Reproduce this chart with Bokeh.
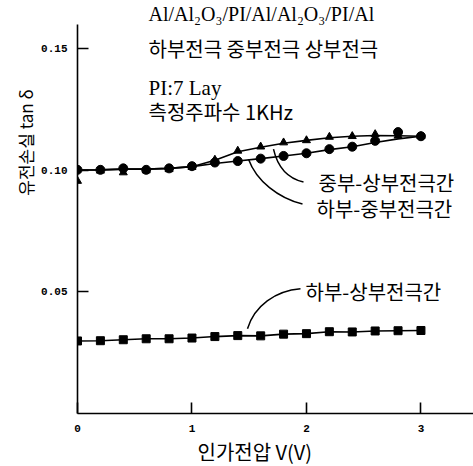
import math
from bokeh.plotting import figure
from bokeh.models import Label, Title, FixedTicker, PrintfTickFormatter, Range1d
from bokeh.embed import file_html
from bokeh.resources import INLINE

# ---- data ----
volts = [0.0, 0.2, 0.4, 0.6, 0.8, 1.0, 1.2, 1.4, 1.6, 1.8, 2.0, 2.2, 2.4, 2.6, 2.8, 3.0]

# 하부-상부전극간 (squares)
lower_upper = [0.0298, 0.0299, 0.0303, 0.0307, 0.0307, 0.0310, 0.0316, 0.0320,
               0.0319, 0.0326, 0.0328, 0.0336, 0.0335, 0.0339, 0.0340, 0.0341]
# 하부-중부전극간 (circles) markers and drawn curve
lower_middle = [0.1001, 0.1001, 0.1007, 0.1001, 0.1007, 0.1016, 0.1031, 0.1037,
                0.1047, 0.1058, 0.1069, 0.1086, 0.1096, 0.1120, 0.1156, 0.1139]
lower_middle_curve = [0.1000, 0.1001, 0.1004, 0.1004, 0.1007, 0.1014, 0.1027, 0.1037,
                      0.1047, 0.1058, 0.1069, 0.1084, 0.1096, 0.1113, 0.1128, 0.1139]
# 중부-상부전극간 (triangles) markers and drawn curve
middle_upper = [0.0955, 0.0997, 0.0990, 0.0998, 0.1003, 0.1012, 0.1042, 0.1079,
                0.1096, 0.1113, 0.1122, 0.1136, 0.1139, 0.1147, 0.1141, 0.1139]
middle_upper_curve = [0.1000, 0.1001, 0.1004, 0.1004, 0.1007, 0.1014, 0.1040, 0.1075,
                      0.1094, 0.1110, 0.1122, 0.1133, 0.1139, 0.1142, 0.1141, 0.1139]

x_ticks = [0, 1, 2, 3]
y_ticks = [0.05, 0.10, 0.15]

# ---- figure ----
W, H = 473, 466
FL, FT, FB = 77, 23, 53
X0, X1 = 0.0, 3.459
Y0, Y1 = 0.0, 0.1598

p = figure(width=W, height=H, output_backend="svg", toolbar_location=None,
           x_range=Range1d(X0, X1), y_range=Range1d(Y0, Y1),
           min_border_left=FL, min_border_right=0, min_border_top=FT,
           min_border_bottom=FB)
p.outline_line_color = None
p.grid.visible = False
p.background_fill_color = "white"

fw = W - FL
fh = H - FT - FB
def px(xp, yp):
    """canvas pixel -> data coordinates (for annotation placement)"""
    xd = X0 + (xp - FL) / fw * (X1 - X0)
    yd = Y0 + (H - FB - yp) / fh * (Y1 - Y0)
    return xd, yd

for ax in (p.xaxis[0], p.yaxis[0]):
    ax.axis_line_width = 1.6
    ax.axis_line_color = "black"
    ax.major_tick_line_width = 1.6
    ax.major_tick_in = 11
    ax.major_tick_out = 0
    ax.minor_tick_line_color = None
    ax.major_label_text_font = "Liberation Mono"
    ax.major_label_text_font_style = "bold"
    ax.major_label_text_font_size = "11px"
    ax.major_label_text_color = "black"

p.xaxis.ticker = FixedTicker(ticks=x_ticks)
p.xaxis.formatter = PrintfTickFormatter(format="%d")
p.xaxis.major_label_standoff = 11
p.yaxis.ticker = FixedTicker(ticks=y_ticks)
p.yaxis.formatter = PrintfTickFormatter(format="%.2f")
p.yaxis.major_label_standoff = 10

# curves
p.line(volts, lower_upper, line_color="black", line_width=1.6)
p.line(volts, lower_middle_curve, line_color="black", line_width=1.6)
p.line(volts, middle_upper_curve, line_color="black", line_width=1.6)

# markers
p.scatter(volts, middle_upper, marker="triangle", size=8, color="black")
p.scatter(volts, lower_middle, marker="circle", size=9, color="black")
p.scatter(volts, lower_upper, marker="square", size=8, color="black")

# leader curves
leaders = [
    [(273, 148), (278, 170), (290, 178), (303, 181)],
    [(248, 158), (256, 180), (278, 197), (302, 203)],
    [(247, 328), (254, 305), (275, 290), (300, 288)],
]
for pts in leaders:
    (x0, y0), (cx0, cy0), (cx1, cy1), (x1, y1) = [px(a, b) for a, b in pts]
    p.bezier(x0=[x0], y0=[y0], x1=[x1], y1=[y1], cx0=[cx0], cy0=[cy0],
             cx1=[cx1], cy1=[cy1], line_color="black", line_width=1.5)

KR = "Noto Sans CJK KR"
SERIF = "Liberation Serif"

# titles outside the frame
p.add_layout(Title(text="Al/Al\u2082O\u2083/PI/Al/Al\u2082O\u2083/PI/Al", align="left",
                   offset=148 - FL, standoff=0, text_font=SERIF, text_font_size="20px",
                   text_font_style="normal", text_color="black"), "above")
p.add_layout(Title(text="유전손실 tan δ", align="right", offset=65, standoff=2,
                   text_font=KR, text_font_size="17px", text_font_style="normal",
                   text_color="black"), "left")
p.add_layout(Title(text="인가전압 V(V)", align="left", offset=197 - FL, standoff=1,
                   text_font=KR, text_font_size="20px", text_font_style="normal",
                   text_color="black"), "below")

texts = [
    ("하부전극 중부전극 상부전극", 148, 47, KR, "20px"),
    ("PI:7 Lay", 148, 87, SERIF, "21px"),
    ("측정주파수 1KHz", 148, 110, KR, "20px"),
    ("중부-상부전극간", 318, 181, KR, "20px"),
    ("하부-중부전극간", 316, 207, KR, "20px"),
    ("하부-상부전극간", 305, 291, KR, "20px"),
]
for t, xp, yp, font, size in texts:
    xd, yd = px(xp, yp)
    p.add_layout(Label(x=xd, y=yd, text=t, text_font=font, text_font_size=size,
                       text_align="left", text_baseline="middle",
                       text_color="black"))

open("out.html", "w").write(file_html(p, INLINE))
